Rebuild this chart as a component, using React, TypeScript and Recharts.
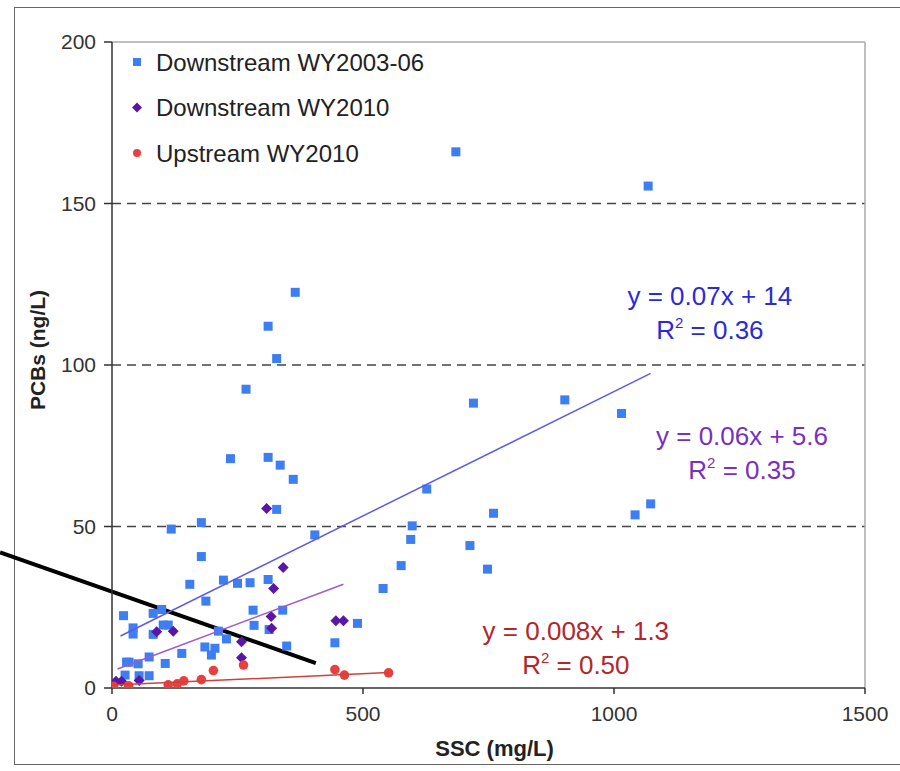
import React from 'react';
import { ScatterChart, Scatter, XAxis, YAxis, ReferenceLine, ReferenceDot } from 'recharts';

// ---- data (SSC mg/L, PCBs ng/L) ----
const downstream2003to06: [number, number][] = [
  [685, 166], [1068, 155.4], [365, 122.5], [311, 112], [328, 102], [267, 92.5], [720, 88.2], [902, 89.2],
  [1015, 85], [236, 71], [311, 71.4], [335, 69], [361, 64.6], [627, 61.6], [1073, 57], [328, 55.3],
  [760, 54.1], [1042, 53.6], [178, 51.2], [598, 50.2], [118, 49.2], [404, 47.4], [595, 46], [713, 44.1],
  [178, 40.7], [576, 37.9], [748, 36.8], [222, 33.4], [311, 33.6], [250, 32.4], [275, 32.6], [155, 32.1],
  [540, 30.8], [187, 26.9], [99, 24.3], [281, 24.1], [340, 24.1], [82, 23.1], [23, 22.4], [489, 20],
  [102, 19.5], [112, 19.5], [283, 19.4], [42, 18.6], [313, 18.1], [212, 17.6], [42, 16.7], [82, 16.6],
  [228, 15.2], [444, 14], [348, 13], [185, 12.7], [205, 12.3], [139, 10.7], [198, 10.2], [74, 9.6],
  [29, 8], [34, 8], [52, 7.5], [106, 7.6], [26, 4], [54, 3.8], [74, 3.8],
];
const downstream2010: [number, number][] = [
  [308, 55.6], [341, 37.3], [322, 30.8], [317, 22.1], [318, 18.5], [89, 17.4], [122, 17.6], [258, 14.3],
  [258, 9.4], [446, 20.8], [461, 20.8], [8, 2.1], [19, 2.1], [54, 2.3],
];
const upstream2010: [number, number][] = [
  [3, 0.5], [33, 0.7], [112, 1.0], [130, 1.3], [143, 2.2], [178, 2.6], [202, 5.4], [262, 7.1],
  [444, 5.7], [463, 4.0], [551, 4.7],
];
// fitted trend line end points
const trendDownstream2003to06: [number, number][] = [[17, 16.1], [1073, 97.4]];
const trendDownstream2010: [number, number][] = [[11, 5.9], [461, 32.1]];
const trendUpstream2010: [number, number][] = [[3, 0.9], [551, 4.8]];
// annotation arrow line (in data units)
const annotationSegment: [number, number][] = [[-223, 42], [406, 7.7]];

const xTicks = [0, 500, 1000, 1500];
const yTicks = [0, 50, 100, 150, 200];
const gridValues = [50, 100, 150];

const equations = [
  { x: 1191, y: 121.3, eq: 'y = 0.07x + 14', r2: '0.36', color: '#2b2bd4' },
  { x: 1255, y: 78.1, eq: 'y = 0.06x + 5.6', r2: '0.35', color: '#7a2fc0' },
  { x: 924, y: 17.6, eq: 'y = 0.008x + 1.3', r2: '0.50', color: '#b3262b' },
];

const legendItems = [
  { name: 'Downstream WY2003-06', kind: 'square', color: '#3d7ff2' },
  { name: 'Downstream WY2010', kind: 'diamond', color: '#5a16a6' },
  { name: 'Upstream WY2010', kind: 'circle', color: '#e8403f' },
];

const toPts = (a: [number, number][]) => a.map(([x, y]) => ({ x, y }));

const FONT = '"Liberation Sans", Arial, sans-serif';

const SquareShape = (p: any) => (
  <rect x={p.cx - 4.5} y={p.cy - 4.5} width={9} height={9} fill="#3d7ff2" />
);
const DiamondShape = (p: any) => (
  <polygon
    points={`${p.cx},${p.cy - 5.5} ${p.cx + 5.5},${p.cy} ${p.cx},${p.cy + 5.5} ${p.cx - 5.5},${p.cy}`}
    fill="#5a16a6"
  />
);
const CircleShape = (p: any) => <circle cx={p.cx} cy={p.cy} r={4.8} fill="#e8403f" />;
const NoShape = () => <g />;

const makeEqLabel = (eq: string, r2: string, color: string) => (props: any) => {
  const vb = props.viewBox || {};
  const cx = vb.x + (vb.width || 0) / 2;
  const cy = vb.y + (vb.height || 0) / 2;
  return (
    <g>
      <text x={cx} y={cy + 9} textAnchor="middle" fontSize={26} fill={color} fontFamily={FONT}>
        {eq}
      </text>
      <text x={cx} y={cy + 43} textAnchor="middle" fontSize={26} fill={color} fontFamily={FONT}>
        R<tspan fontSize={15} dy={-11}>2</tspan>
        <tspan dy={11}> = {r2}</tspan>
      </text>
    </g>
  );
};

export default function App() {
  return (
    <div style={{ position: 'absolute', left: 0, top: 0, width: 900, height: 771, background: '#fff', overflow: 'hidden' }}>
      <div
        style={{
          position: 'absolute', left: 14, top: 7, width: 900, height: 758,
          borderLeft: '1.5px solid #666', borderTop: '1.5px solid #666', borderBottom: '1.5px solid #666',
          boxSizing: 'border-box',
        }}
      />
      <div style={{ position: 'absolute', left: 0, top: 0 }}>
        <ScatterChart width={900} height={771} margin={{ top: 42, right: 35, bottom: 23, left: 0 }}>
          <XAxis
            type="number"
            dataKey="x"
            domain={[0, 1500]}
            ticks={xTicks}
            allowDataOverflow
            height={60}
            tickSize={6}
            tickMargin={12}
            axisLine={{ stroke: '#333', strokeWidth: 1.5 }}
            tickLine={{ stroke: '#333', strokeWidth: 1.5 }}
            tick={{ fontSize: 21, fill: '#333', fontFamily: FONT }}
            label={(props: any) => {
              const vb = props.viewBox;
              return (
                <text x={vb.x + vb.width / 2 + 6} y={vb.y + 68} textAnchor="middle" fontSize={22}
                  fontWeight="bold" fill="#222" fontFamily={FONT}>SSC (mg/L)</text>
              );
            }}
          />
          <YAxis
            type="number"
            dataKey="y"
            domain={[0, 200]}
            ticks={yTicks}
            allowDataOverflow
            width={112}
            tickSize={8}
            tickMargin={8}
            axisLine={{ stroke: '#333', strokeWidth: 1.5 }}
            tickLine={{ stroke: '#333', strokeWidth: 1.5 }}
            tick={{ fontSize: 21, fill: '#333', fontFamily: FONT }}
            label={(props: any) => {
              const vb = props.viewBox;
              const x = vb.x + 37;
              const y = vb.y + vb.height / 2 - 15;
              return (
                <text x={x} y={y} transform={`rotate(-90, ${x}, ${y})`} textAnchor="middle" dominantBaseline="central"
                  fontSize={21} fontWeight="bold" fill="#222" fontFamily={FONT}>PCBs (ng/L)</text>
              );
            }}
          />
          {gridValues.map((v) => (
            <ReferenceLine key={v} y={v} stroke="#444" strokeWidth={1.5} strokeDasharray="9 6" />
          ))}
          <ReferenceLine y={200} stroke="#aaa" strokeWidth={1.5} />
          <ReferenceLine x={1500} stroke="#aaa" strokeWidth={1.5} />

          <Scatter data={toPts(downstream2003to06)} shape={SquareShape} isAnimationActive={false} />
          <Scatter data={toPts(downstream2010)} shape={DiamondShape} isAnimationActive={false} />
          <Scatter data={toPts(upstream2010)} shape={CircleShape} isAnimationActive={false} />

          <Scatter data={toPts(trendDownstream2003to06)} shape={NoShape} line={{ stroke: '#5c5ce6', strokeWidth: 1.5 }} legendType="none" isAnimationActive={false} />
          <Scatter data={toPts(trendDownstream2010)} shape={NoShape} line={{ stroke: '#9d5ad4', strokeWidth: 1.5 }} legendType="none" isAnimationActive={false} />
          <Scatter data={toPts(trendUpstream2010)} shape={NoShape} line={{ stroke: '#d0403c', strokeWidth: 1.5 }} legendType="none" isAnimationActive={false} />

          {equations.map((e) => (
            <ReferenceDot key={e.eq} x={e.x} y={e.y} r={0} fill="none" stroke="none" ifOverflow="visible"
              label={makeEqLabel(e.eq, e.r2, e.color)} />
          ))}

          <ReferenceLine
            segment={annotationSegment.map(([x, y]) => ({ x, y }))}
            ifOverflow="visible"
            stroke="#000"
            strokeWidth={4}
          />
        </ScatterChart>
      </div>
      <svg width={400} height={180} style={{ position: 'absolute', left: 120, top: 40 }}>
        {legendItems.map((it, i) => {
          const cy = 22 + i * 45.5;
          const cx = 17;
          let marker;
          if (it.kind === 'square') marker = <rect x={cx - 4} y={cy - 4} width={8} height={8} fill={it.color} />;
          else if (it.kind === 'diamond') marker = <polygon points={`${cx},${cy - 5} ${cx + 5},${cy} ${cx},${cy + 5} ${cx - 5},${cy}`} fill={it.color} />;
          else marker = <circle cx={cx} cy={cy} r={4} fill={it.color} />;
          return (
            <g key={it.name}>
              {marker}
              <text x={36} y={cy + 8.5} fontSize={24} fill="#222" fontFamily={FONT}>{it.name}</text>
            </g>
          );
        })}
      </svg>
    </div>
  );
}
